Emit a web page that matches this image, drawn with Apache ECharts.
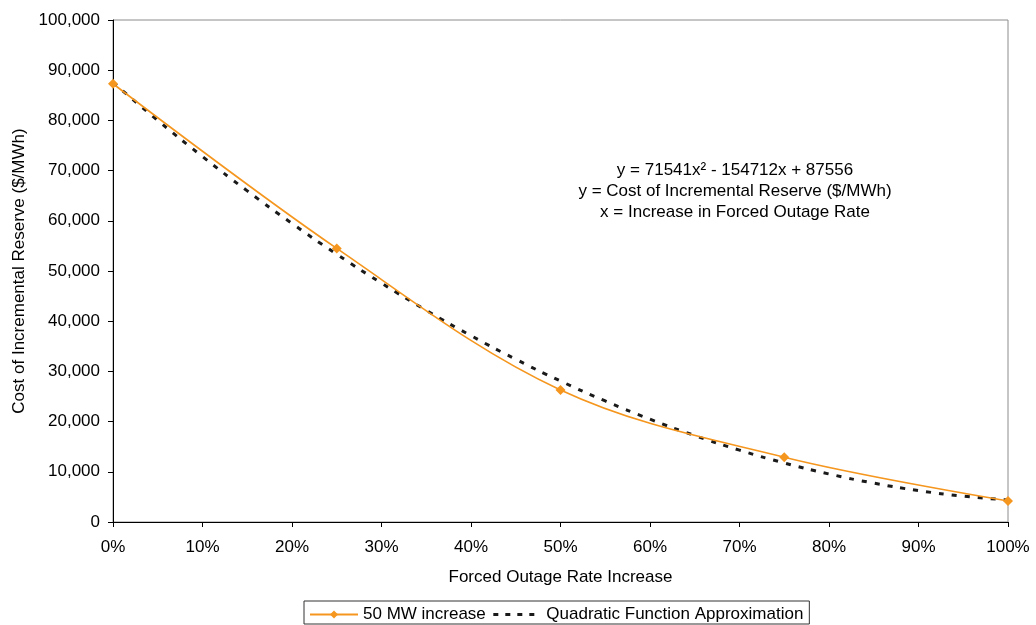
<!DOCTYPE html>
<html>
<head>
<meta charset="utf-8">
<script src="https://cdn.jsdelivr.net/npm/echarts@6/dist/echarts.min.js"></script>
<style>
  html, body { margin: 0; padding: 0; background: #fff; }
  #chart { width: 1036px; height: 625px; }
</style>
</head>
<body>
<div id="chart"></div>
<script>
// Measured cost of incremental reserve for a 50 MW increase
const outageRates = [0, 0.25, 0.5, 0.75, 1.0];
const costs50MW = [87300, 54500, 26300, 12900, 4200];

// Quadratic fit, sampled every 5%
const fitRates = [0, 0.05, 0.1, 0.15, 0.2, 0.25, 0.3, 0.35, 0.4, 0.45, 0.5,
                  0.55, 0.6, 0.65, 0.7, 0.75, 0.8, 0.85, 0.9, 0.95, 1.0];
const fitCosts = [87556, 79999, 72800, 65959, 59475, 53349, 47581, 42171, 37118, 32423, 28085,
                  24106, 20484, 17219, 14313, 11764, 9573, 7739, 6263, 5145, 4385];

const seriesNames = ['50 MW increase', 'Quadratic Function Approximation'];
const xAxisTitle = 'Forced Outage Rate Increase';
const yAxisTitle = 'Cost of Incremental Reserve ($/MWh)';
const noteLines = [
  'y = 71541x\u00B2 - 154712x + 87556',
  'y = Cost of Incremental Reserve ($/MWh)',
  'x = Increase in Forced Outage Rate'
];

const FONT = '"Liberation Sans", Arial, sans-serif';
const FS = 17;
const ORANGE = '#F5961E';
const DARK = '#1a1a1a';

const chart = echarts.init(document.getElementById('chart'), null, { renderer: 'canvas' });

chart.setOption({
  animation: false,
  backgroundColor: '#ffffff',
  textStyle: { fontFamily: FONT, color: '#000' },
  grid: {
    left: 113, right: 28, top: 20, bottom: 103,
    show: true, borderColor: '#8c8c8c', borderWidth: 1, backgroundColor: 'transparent'
  },
  xAxis: {
    type: 'value', min: 0, max: 1, interval: 0.1,
    name: xAxisTitle, nameLocation: 'middle', nameGap: 47,
    nameTextStyle: { fontFamily: FONT, fontSize: FS, color: '#000' },
    axisLine: { show: true, lineStyle: { color: '#000', width: 1 } },
    axisTick: { show: true, inside: false, length: 5, lineStyle: { color: '#000' } },
    axisLabel: {
      fontFamily: FONT, fontSize: FS, color: '#000', margin: 17,
      formatter: v => Math.round(v * 100) + '%'
    },
    splitLine: { show: false }
  },
  yAxis: {
    type: 'value', min: 0, max: 100000, interval: 10000,
    name: yAxisTitle, nameLocation: 'middle', nameGap: 77,
    nameTextStyle: { fontFamily: FONT, fontSize: FS, color: '#000' },
    axisLine: { show: true, lineStyle: { color: '#000', width: 1 } },
    axisTick: { show: true, inside: false, length: 5, lineStyle: { color: '#000' } },
    axisLabel: {
      fontFamily: FONT, fontSize: FS, color: '#000', margin: 13,
      formatter: v => v.toLocaleString('en-US')
    },
    splitLine: { show: false }
  },
  legend: {
    top: 601, left: 304,
    data: [
      { name: seriesNames[0] },
      {
        name: seriesNames[1],
        itemStyle: { color: 'rgba(0,0,0,0)', borderWidth: 0 },
        lineStyle: { color: DARK, width: 3, type: [5, 7] }
      }
    ],
    orient: 'horizontal',
    itemWidth: 48, itemHeight: 10, itemGap: 6,
    padding: [5, 6, 1, 5],
    borderColor: '#333', borderWidth: 1,
    textStyle: { fontFamily: FONT, fontSize: FS, color: '#000' }
  },
  graphic: noteLines.map((t, i) => ({
    type: 'text',
    x: 735, y: 170 + i * 21,
    style: {
      text: t, fill: '#000',
      font: FS + 'px ' + FONT,
      textAlign: 'center', textVerticalAlign: 'middle'
    },
    silent: true
  })),
  series: [
    {
      name: seriesNames[0],
      type: 'line',
      data: outageRates.map((x, i) => [x, costs50MW[i]]),
      smooth: 0.35,
      symbol: 'diamond', symbolSize: 10,
      lineStyle: { color: ORANGE, width: 1.6 },
      itemStyle: { color: ORANGE },
      z: 3
    },
    {
      name: seriesNames[1],
      type: 'line',
      data: fitRates.map((x, i) => [x, fitCosts[i]]),
      smooth: true,
      symbol: 'none',
      lineStyle: { color: DARK, width: 3, type: [5, 8] },
      itemStyle: { color: DARK },
      z: 2
    }
  ]
});
</script>
</body>
</html>
